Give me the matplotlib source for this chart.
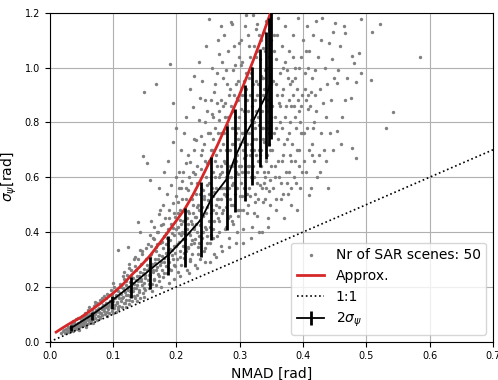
import numpy as np
import matplotlib
matplotlib.use("Agg")
import matplotlib.pyplot as plt

# ---- scatter cloud (NMAD, sigma_psi), read/ ----
scatter_pts = """
0.018 0.030 0.021 0.038 0.024 0.033 0.026 0.045 0.028 0.040 0.029 0.052 0.031 0.036 0.032 0.047
0.033 0.058 0.034 0.043 0.035 0.066 0.036 0.051 0.037 0.040 0.038 0.060 0.039 0.072 0.040 0.049
0.041 0.057 0.042 0.081 0.043 0.046 0.044 0.064 0.045 0.070 0.046 0.053 0.047 0.088 0.048 0.061
0.049 0.075 0.050 0.058 0.051 0.095 0.052 0.067 0.053 0.082 0.054 0.060 0.055 0.106 0.056 0.074
0.057 0.090 0.058 0.064 0.059 0.099 0.060 0.079 0.061 0.115 0.062 0.070 0.063 0.087 0.064 0.101
0.065 0.076 0.066 0.120 0.067 0.093 0.068 0.082 0.069 0.108 0.070 0.131 0.071 0.088 0.072 0.101
0.073 0.117 0.074 0.079 0.075 0.140 0.076 0.095 0.077 0.110 0.078 0.124 0.079 0.089 0.080 0.152
0.081 0.104 0.082 0.118 0.083 0.097 0.084 0.133 0.085 0.112 0.086 0.165 0.087 0.100 0.088 0.126
0.089 0.141 0.090 0.108 0.091 0.175 0.092 0.119 0.093 0.135 0.094 0.103 0.095 0.150 0.096 0.127
0.097 0.188 0.098 0.113 0.099 0.142 0.100 0.160 0.101 0.122 0.102 0.200 0.103 0.134 0.104 0.110
0.105 0.170 0.072 0.145 0.083 0.160 0.094 0.172 0.100 0.215
0.106 0.145 0.107 0.121 0.108 0.185 0.109 0.160 0.110 0.132 0.111 0.210 0.112 0.150 0.113 0.173
0.114 0.127 0.115 0.195 0.116 0.162 0.117 0.230 0.118 0.140 0.119 0.181 0.120 0.205 0.121 0.153
0.122 0.245 0.123 0.172 0.124 0.190 0.125 0.138 0.126 0.218 0.127 0.168 0.128 0.260 0.129 0.200
0.130 0.150 0.131 0.232 0.132 0.185 0.133 0.210 0.134 0.158 0.135 0.275 0.136 0.196 0.137 0.240
0.138 0.170 0.139 0.222 0.140 0.300 0.141 0.188 0.142 0.255 0.143 0.160 0.144 0.230 0.145 0.205
0.146 0.320 0.147 0.178 0.148 0.265 0.149 0.215 0.150 0.245 0.151 0.190 0.152 0.340 0.153 0.280
0.115 0.240 0.125 0.285 0.133 0.300 0.142 0.335 0.120 0.128 0.138 0.150 0.148 0.163
0.108 0.335 0.124 0.347
0.155 0.225 0.156 0.270 0.157 0.195 0.158 0.310 0.159 0.245 0.160 0.350 0.161 0.210 0.162 0.285
0.163 0.260 0.164 0.375 0.165 0.230 0.166 0.300 0.167 0.205 0.168 0.330 0.169 0.272 0.170 0.400
0.171 0.248 0.172 0.315 0.173 0.220 0.174 0.360 0.175 0.290 0.176 0.425 0.177 0.262 0.178 0.340
0.179 0.236 0.180 0.385 0.181 0.305 0.182 0.450 0.183 0.275 0.184 0.355 0.185 0.250 0.186 0.410
0.187 0.320 0.188 0.480 0.189 0.290 0.190 0.370 0.191 0.262 0.192 0.430 0.193 0.335 0.194 0.505
0.195 0.300 0.196 0.390 0.197 0.275 0.198 0.455 0.199 0.350 0.200 0.530 0.158 0.390 0.165 0.420
0.172 0.465 0.178 0.500 0.185 0.540 0.192 0.570 0.199 0.600 0.162 0.185 0.175 0.200 0.188 0.215
0.196 0.230 0.170 0.355 0.183 0.395 0.194 0.415 0.147 0.679 0.149 0.909 0.167 0.940 0.190 1.012
0.195 0.870 0.153 0.651 0.158 0.590 0.140 0.438 0.142 0.400 0.180 0.620 0.172 0.560 0.186 0.660
0.195 0.730 0.200 0.780
0.201 0.300 0.202 0.420 0.203 0.255 0.204 0.365 0.205 0.480 0.206 0.330 0.207 0.560 0.208 0.280
0.209 0.400 0.210 0.350 0.211 0.620 0.212 0.305 0.213 0.445 0.214 0.375 0.215 0.520 0.216 0.262
0.217 0.410 0.218 0.680 0.219 0.340 0.220 0.470 0.221 0.295 0.222 0.390 0.223 0.580 0.224 0.430
0.225 0.320 0.226 0.500 0.227 0.740 0.228 0.360 0.229 0.455 0.230 0.280 0.231 0.540 0.232 0.400
0.233 0.640 0.234 0.345 0.235 0.480 0.236 0.810 0.237 0.425 0.238 0.300 0.239 0.560 0.240 0.380
0.241 0.700 0.242 0.460 0.243 0.330 0.244 0.520 0.245 0.880 0.246 0.410 0.247 0.600 0.248 0.360
0.249 0.490 0.250 0.760 0.203 0.510 0.206 0.445 0.209 0.585 0.212 0.395 0.215 0.330 0.218 0.475
0.221 0.655 0.224 0.370 0.227 0.420 0.230 0.610 0.233 0.490 0.236 0.385 0.239 0.680 0.242 0.555
0.245 0.420 0.248 0.650 0.205 0.240 0.220 0.250 0.232 0.270 0.245 0.290 0.208 0.700 0.215 0.820
0.222 0.920 0.228 0.970 0.235 1.020 0.241 0.950 0.247 1.080 0.212 0.760 0.226 0.855 0.238 0.890
0.249 0.840 0.204 0.620 0.219 0.555 0.231 0.735 0.244 0.720
0.251 0.440 0.252 0.580 0.253 0.360 0.254 0.700 0.255 0.500 0.256 0.830 0.257 0.410 0.258 0.620
0.259 0.320 0.260 0.545 0.261 0.940 0.262 0.470 0.263 0.680 0.264 0.385 0.265 0.760 0.266 0.520
0.267 1.050 0.268 0.440 0.269 0.610 0.270 0.350 0.271 0.880 0.272 0.560 0.273 0.720 0.274 0.480
0.275 1.120 0.276 0.410 0.277 0.650 0.278 0.990 0.279 0.530 0.280 0.790 0.281 0.450 0.282 0.600
0.283 0.380 0.284 0.920 0.285 0.700 0.286 0.500 0.287 1.160 0.288 0.570 0.289 0.840 0.290 0.430
0.291 0.650 0.292 1.010 0.293 0.540 0.294 0.760 0.295 0.400 0.296 0.890 0.297 0.610 0.298 0.480
0.299 1.090 0.300 0.720 0.252 0.660 0.255 0.390 0.258 0.740 0.261 0.600 0.264 0.870 0.267 0.490
0.270 0.640 0.273 0.960 0.276 0.560 0.279 0.700 0.282 0.820 0.285 0.460 0.288 0.720 0.291 0.900
0.294 0.620 0.297 0.780 0.300 0.530 0.253 0.290 0.262 0.310 0.272 0.330 0.283 0.345 0.294 0.360
0.256 1.000 0.265 1.100 0.252 1.178 0.286 1.166 0.270 1.150 0.259 0.910 0.268 0.810 0.277 0.870
0.290 0.990 0.298 0.950 0.254 0.470 0.263 0.560 0.271 0.520 0.280 0.620 0.289 0.580 0.296 0.680
0.258 0.530 0.275 0.760 0.284 0.520 0.293 0.820
0.301 0.480 0.302 0.850 0.303 0.620 0.304 1.020 0.305 0.410 0.306 0.730 0.307 0.950 0.308 0.560
0.309 1.150 0.310 0.680 0.311 0.470 0.312 0.880 0.313 0.620 0.314 1.080 0.315 0.760 0.316 0.530
0.317 0.980 0.318 0.700 0.319 0.420 0.320 0.860 0.321 1.190 0.322 0.600 0.323 0.800 0.324 0.510
0.325 1.040 0.326 0.740 0.327 0.900 0.328 0.460 0.329 0.660 0.330 1.120 0.331 0.820 0.332 0.570
0.333 0.970 0.334 0.700 0.335 0.400 0.336 1.070 0.337 0.780 0.338 0.620 0.339 0.920 0.340 0.520
0.341 1.170 0.342 0.860 0.343 0.680 0.344 1.000 0.345 0.450 0.346 0.760 0.347 0.940 0.348 0.590
0.349 1.100 0.350 0.820 0.303 0.760 0.306 0.560 0.309 0.900 0.312 0.720 0.315 0.640 0.318 1.000
0.321 0.740 0.324 0.880 0.327 0.580 0.330 0.790 0.333 0.640 0.336 0.900 0.339 0.730 0.342 0.560
0.345 0.880 0.348 0.700 0.305 0.360 0.318 0.380 0.330 0.400 0.344 0.420 0.310 1.190 0.328 1.160
0.338 1.130 0.347 1.180 0.302 1.100 0.315 0.960 0.325 0.950 0.335 0.840 0.343 0.780 0.307 0.670
0.317 0.810 0.326 0.680 0.332 1.030 0.340 0.990 0.349 0.640 0.304 0.530 0.313 0.500 0.322 0.470
0.337 0.510 0.346 0.550
0.351 0.700 0.352 0.950 0.353 0.560 0.354 1.120 0.355 0.820 0.356 0.640 0.357 1.030 0.358 0.480
0.359 0.900 0.360 0.740 0.361 1.180 0.362 0.600 0.363 0.860 0.364 0.980 0.365 0.520 0.366 0.780
0.367 1.080 0.368 0.680 0.369 0.920 0.370 0.450 0.371 0.820 0.372 1.150 0.373 0.620 0.374 0.990
0.375 0.740 0.376 0.540 0.377 0.880 0.378 1.060 0.379 0.680 0.380 0.800 0.381 0.500 0.382 0.950
0.383 0.720 0.384 1.120 0.385 0.600 0.386 0.860 0.387 1.000 0.388 0.660 0.389 0.780 0.390 0.480
0.391 0.920 0.392 1.180 0.393 0.700 0.394 0.840 0.395 0.560 0.396 1.040 0.397 0.760 0.398 0.900
0.399 0.620 0.400 1.100 0.355 0.600 0.362 0.870 0.368 1.000 0.374 0.580 0.381 0.860 0.388 0.960
0.394 0.640 0.358 0.780 0.366 0.660 0.379 0.940
0.401 0.760 0.403 0.980 0.404 0.620 0.406 1.150 0.407 0.850 0.409 0.700 0.410 1.060 0.412 0.560
0.413 0.910 0.415 0.780 0.416 1.120 0.418 0.660 0.419 0.990 0.421 0.840 0.422 0.600 0.424 1.040
0.425 0.680 0.426 0.620 0.427 0.920 0.429 0.760 0.430 1.180 0.432 0.870 0.433 0.700 0.435 1.000
0.436 0.820 0.438 0.940 0.439 0.562 0.441 1.090 0.443 0.760 0.444 0.880 0.446 1.030 0.448 0.700
0.449 0.960 0.405 0.880 0.414 0.720 0.420 1.170 0.428 1.100 0.437 0.660 0.447 1.130 0.410 0.535
0.451 1.164 0.454 0.943 0.455 0.990 0.458 1.079 0.460 0.720 0.461 0.819 0.465 1.150 0.466 1.125
0.467 0.880 0.475 0.888 0.477 1.043 0.478 0.708 0.480 1.016 0.484 0.949 0.484 0.669 0.488 1.052
0.491 0.980 0.492 1.178 0.453 0.770 0.470 0.960
0.508 0.953 0.509 1.130 0.521 1.158 0.531 0.779 0.542 0.837 0.584 1.038
0.0225 0.041 0.0275 0.035 0.0305 0.050 0.0345 0.055 0.0375 0.048 0.0405 0.065 0.0435 0.055
0.0465 0.068 0.0495 0.065 0.0525 0.078 0.0555 0.072 0.0585 0.085 0.0615 0.092 0.0645 0.083
0.0675 0.105 0.0705 0.097 0.0735 0.110 0.0765 0.118 0.0795 0.105 0.0825 0.128 0.0855 0.122
0.0885 0.135 0.0915 0.129 0.0945 0.145 0.0975 0.138 0.1005 0.150 0.0365 0.075 0.0445 0.085
0.0535 0.095 0.0625 0.125 0.0715 0.135 0.0805 0.145 0.0895 0.160 0.0985 0.175 0.0455 0.042
0.0565 0.055 0.0685 0.070 0.0785 0.085 0.0905 0.095 0.0995 0.105
0.1025 0.158 0.1055 0.140 0.1085 0.168 0.1115 0.178 0.1145 0.160 0.1175 0.188 0.1205 0.170
0.1235 0.198 0.1265 0.185 0.1295 0.215 0.1325 0.195 0.1355 0.225 0.1385 0.205 0.1415 0.238
0.1445 0.220 0.1475 0.250 0.1505 0.232 0.1535 0.262 0.1565 0.245 0.1595 0.275 0.1625 0.255
0.1655 0.288 0.1685 0.262 0.1715 0.300 0.1745 0.278 0.1775 0.312 0.1805 0.290 0.1835 0.325
0.1865 0.300 0.1895 0.338 0.1925 0.315 0.1955 0.350 0.1985 0.322 0.1045 0.190 0.1125 0.200
0.1205 0.222 0.1285 0.240 0.1365 0.262 0.1445 0.285 0.1525 0.300 0.1605 0.320 0.1685 0.345
0.1765 0.362 0.1845 0.380 0.1925 0.398 0.1995 0.412 0.1085 0.128 0.1165 0.142 0.1245 0.152
0.1325 0.168 0.1405 0.180 0.1485 0.195 0.1565 0.210 0.1645 0.225 0.1725 0.238 0.1805 0.250
0.1885 0.265 0.1965 0.280 0.1555 0.355 0.1635 0.380 0.1715 0.400 0.1795 0.430 0.1875 0.450
0.1955 0.470 0.1345 0.310 0.1455 0.330 0.1165 0.255 0.1255 0.270 0.1605 0.440 0.1745 0.480
0.2015 0.355 0.2045 0.395 0.2075 0.430 0.2105 0.375 0.2135 0.410 0.2165 0.450 0.2195 0.395
0.2225 0.440 0.2255 0.470 0.2285 0.410 0.2315 0.455 0.2345 0.500 0.2375 0.445 0.2405 0.490
0.2435 0.530 0.2465 0.470 0.2495 0.515 0.2025 0.470 0.2085 0.520 0.2145 0.560 0.2205 0.600
0.2265 0.620 0.2325 0.580 0.2385 0.630 0.2445 0.660 0.2055 0.310 0.2115 0.325 0.2175 0.345
0.2235 0.355 0.2295 0.375 0.2355 0.360 0.2415 0.400 0.2475 0.385 0.2065 0.390 0.2125 0.480
0.2185 0.430 0.2245 0.520 0.2305 0.430 0.2365 0.540 0.2425 0.460 0.2485 0.570 0.2035 0.560
0.2155 0.650 0.2275 0.700 0.2395 0.750 0.2455 0.800 0.2215 0.300 0.2335 0.320 0.2445 0.340
0.2105 0.440
0.2515 0.540 0.2545 0.600 0.2575 0.480 0.2605 0.660 0.2635 0.520 0.2665 0.600 0.2695 0.700
0.2725 0.620 0.2755 0.540 0.2785 0.600 0.2815 0.700 0.2845 0.640 0.2875 0.780 0.2905 0.720
0.2935 0.660 0.2965 0.740 0.2995 0.820 0.2525 0.760 0.2585 0.820 0.2645 0.640 0.2705 0.760
0.2765 0.820 0.2825 0.900 0.2885 0.640 0.2945 0.940 0.2535 0.420 0.2595 0.440 0.2655 0.450
0.2715 0.470 0.2775 0.490 0.2835 0.560 0.2895 0.500 0.2955 0.560 0.2555 0.700 0.2615 0.780
0.2675 0.840 0.2735 0.860 0.2795 0.940 0.2855 0.860 0.2915 0.780 0.2975 0.880 0.2565 0.560
0.2625 0.500 0.2685 0.560 0.2745 0.660 0.2805 0.540 0.2865 0.600 0.2925 0.600 0.2985 0.640
0.2545 0.880 0.2635 0.980 0.2725 1.020 0.2815 1.060 0.2905 1.080 0.2985 1.040 0.2575 0.380
0.2675 0.400 0.2775 0.420 0.2875 0.440 0.2975 0.460
0.3015 0.640 0.3045 0.700 0.3075 0.800 0.3105 0.760 0.3135 0.840 0.3165 0.900 0.3195 0.800
0.3225 0.700 0.3255 0.840 0.3285 0.940 0.3315 0.880 0.3345 0.780 0.3375 0.960 0.3405 0.900
0.3435 0.840 0.3465 1.040 0.3495 0.940 0.3025 0.580 0.3085 0.620 0.3145 0.560 0.3205 0.640
0.3265 0.620 0.3325 0.680 0.3385 0.580 0.3445 0.620 0.3035 0.900 0.3095 0.980 0.3155 1.040
0.3215 0.940 0.3275 1.060 0.3335 1.100 0.3395 1.060 0.3455 1.140 0.3055 0.480 0.3115 0.540
0.3175 0.600 0.3235 0.540 0.3295 0.520 0.3355 0.560 0.3415 0.660 0.3475 0.500 0.3065 0.840
0.3125 0.640 0.3185 0.720 0.3245 0.780 0.3305 0.700 0.3365 0.740 0.3425 0.800 0.3485 0.880
0.3045 0.760 0.3105 0.920 0.3165 0.680 0.3225 1.080 0.3285 0.820 0.3345 0.960 0.3405 0.600
0.3465 0.720 0.3015 1.010 0.3135 1.120 0.3255 1.140
0.3515 0.860 0.3545 0.760 0.3575 0.940 0.3605 0.660 0.3635 0.800 0.3665 0.900 0.3695 0.720
0.3725 0.860 0.3755 0.960 0.3785 0.760 0.3815 0.660 0.3845 0.900 0.3875 0.820 0.3905 0.700
0.3935 1.000 0.3965 0.860 0.3995 0.760 0.4025 0.920 0.4055 0.780 0.4085 1.000 0.4115 0.860
0.4145 0.960 0.4175 0.800 0.3535 1.060 0.3595 1.120 0.3655 0.580 0.3715 1.020 0.3775 0.620
0.3835 1.040 0.3895 0.580 0.3955 0.800 0.4015 0.660 0.4075 0.900 0.4135 0.680 0.4195 0.900
0.3565 0.520 0.3685 0.540 0.3805 0.560 0.3925 0.880 0.4045 1.060
"""
_vals = np.array(scatter_pts.split(), dtype=float)
scatter_x = _vals[0::2]
scatter_y = _vals[1::2]

# ---- approximation curve (red) ----
approx_x = [0.010, 0.020, 0.032, 0.050, 0.066, 0.080, 0.100, 0.115, 0.129, 0.145, 0.158,
            0.172, 0.187, 0.200, 0.214, 0.226, 0.237, 0.250, 0.265, 0.280, 0.295, 0.308,
            0.320, 0.334, 0.348]
approx_y = [0.035, 0.050, 0.067, 0.090, 0.116, 0.140, 0.177, 0.208, 0.243, 0.280, 0.313,
            0.355, 0.401, 0.442, 0.487, 0.535, 0.584, 0.645, 0.718, 0.795, 0.875, 0.948,
            1.018, 1.104, 1.195]

# ---- binned mean with 2 sigma bars (black) ----
bin_x = [0.033, 0.066, 0.098, 0.129, 0.158, 0.187, 0.214, 0.239, 0.255, 0.280, 0.292,
         0.309, 0.320, 0.332, 0.342, 0.346, 0.349]
bin_mean = [0.049, 0.097, 0.150, 0.206, 0.262, 0.316, 0.381, 0.446, 0.520, 0.595, 0.670,
            0.755, 0.800, 0.855, 0.900, 0.925, 0.950]
bin_lo = [0.040, 0.079, 0.118, 0.158, 0.191, 0.245, 0.274, 0.308, 0.370, 0.409, 0.474,
          0.512, 0.572, 0.639, 0.665, 0.712, 0.740]
bin_hi = [0.060, 0.107, 0.165, 0.235, 0.310, 0.386, 0.487, 0.584, 0.675, 0.785, 0.850,
          0.935, 1.002, 1.068, 1.131, 1.180, 1.250]

one_x = [0.0, 0.7]
one_y = [0.0, 0.7]

xticks = [0.0, 0.1, 0.2, 0.3, 0.4, 0.5, 0.6, 0.7]
yticks = [0.0, 0.2, 0.4, 0.6, 0.8, 1.0, 1.2]

fig = plt.figure(figsize=(4.98, 3.80), dpi=100)
ax = fig.add_axes([0.100, 0.1008, 0.890, 0.8658])

ax.scatter(scatter_x, scatter_y, s=6, color="gray", linewidths=0,
           label="Nr of SAR scenes: 50", zorder=2)
ax.plot(approx_x, approx_y, color="#d62728", lw=2.0, label="Approx.", zorder=4)
ax.plot(one_x, one_y, color="black", ls=":", lw=1.2, label="1:1", zorder=3)
bm = np.array(bin_mean)
yerr = [bm - np.array(bin_lo), np.array(bin_hi) - bm]
ax.errorbar(bin_x, bin_mean, yerr=yerr, color="black", lw=1.3, elinewidth=2.0,
            capsize=0, label=r"2$\sigma_\psi$", zorder=5)

ax.set_xlim(0, 0.7)
ax.set_ylim(0, 1.2)
ax.set_xticks(xticks)
ax.set_yticks(yticks)
ax.tick_params(labelsize=7)
ax.grid(True, color="#b0b0b0", lw=0.8)
ax.set_axisbelow(True)
ax.set_xlabel("NMAD [rad]", fontsize=10)
ax.set_ylabel(r"$\sigma_\psi$[rad]", fontsize=10)
ax.legend(loc="lower right", fontsize=10, scatterpoints=1, markerscale=1.0)

fig.savefig("out.png", dpi=100)
